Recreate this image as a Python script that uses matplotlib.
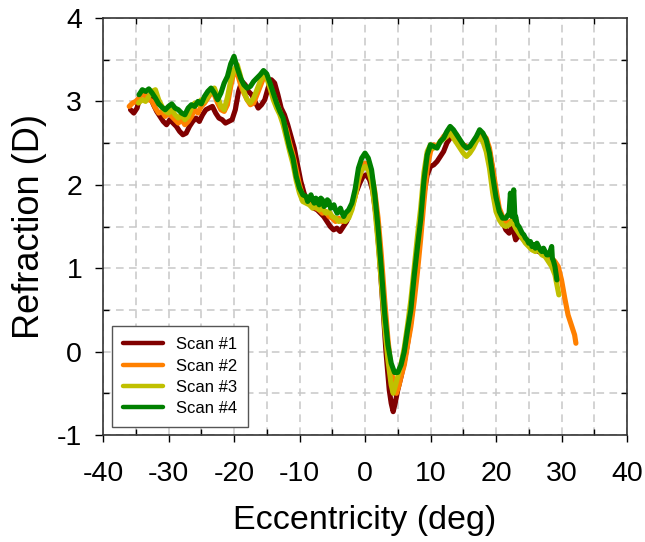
import matplotlib
matplotlib.use('Agg')
import matplotlib.pyplot as plt
from matplotlib.ticker import MultipleLocator

plt.rcParams['font.family'] = ['Liberation Sans', 'DejaVu Sans']
plt.rcParams['axes.unicode_minus'] = False

# Scan #1 (dark red)
scan1_x = [
    -35.8, -35.3, -34.8, -34.3, -33.8, -33.3, -32.8, -32.3, -31.8, -31.3,
    -30.8, -30.3, -29.8, -29.3, -28.8, -28.3, -27.8, -27.3, -26.8, -26.3,
    -25.8, -25.3, -24.8, -24.3, -23.8, -23.3, -22.8, -22.3, -21.8, -21.3,
    -20.8, -20.3, -19.8, -19.3, -18.8, -18.3, -17.8, -17.3, -16.8, -16.3,
    -15.8, -15.3, -14.8, -14.3, -13.8, -13.3, -12.8, -12.3, -11.8, -11.3,
    -10.8, -10.3, -9.8, -9.3, -8.8, -8.3, -7.8, -7.3, -6.8, -6.3,
    -5.8, -5.3, -4.8, -4.3, -3.8, -3.3, -2.8, -2.3, -1.8, -1.3,
    -0.8, -0.3, 0.2, 0.7, 1.2, 1.7, 2.2, 2.7, 3.2, 3.7,
    4.0, 4.3, 4.6, 5.0, 5.5, 6.0, 6.5, 7.0, 7.5, 8.0,
    8.5, 9.0, 9.5, 10.0, 10.5, 11.0, 11.5, 12.0, 12.5, 13.0,
    13.5, 14.0, 14.5, 15.0, 15.5, 16.0, 16.5, 17.0, 17.5, 18.0,
    18.5, 19.0, 19.5, 20.0, 20.5, 21.0, 21.5, 22.0, 22.5, 23.0,
    23.5, 24.0, 24.5, 25.0, 25.5, 26.0, 26.5, 27.0, 27.5, 28.0,
]
scan1_y = [
    2.90, 2.86, 2.92, 3.08, 3.12, 3.04, 3.06, 2.96, 2.88, 2.82,
    2.76, 2.72, 2.78, 2.74, 2.70, 2.64, 2.60, 2.62, 2.70, 2.76,
    2.80, 2.76, 2.84, 2.90, 2.92, 2.94, 2.86, 2.80, 2.78, 2.74,
    2.76, 2.78, 2.90, 3.12, 3.24, 3.20, 3.12, 3.08, 3.00, 2.92,
    2.96, 3.02, 3.16, 3.26, 3.22, 3.08, 2.92, 2.84, 2.72, 2.58,
    2.44, 2.24, 2.04, 1.90, 1.80, 1.76, 1.72, 1.70, 1.66, 1.62,
    1.56, 1.50, 1.46, 1.48, 1.44, 1.50, 1.56, 1.66, 1.80, 1.92,
    2.02, 2.10, 2.12, 2.06, 1.92, 1.62, 1.15, 0.58, 0.00, -0.46,
    -0.62, -0.72, -0.62, -0.46, -0.30, -0.12, 0.10, 0.36, 0.70, 1.10,
    1.50, 1.90, 2.12, 2.22, 2.24, 2.28, 2.34, 2.40, 2.50, 2.56,
    2.58, 2.56, 2.52, 2.48, 2.46, 2.44, 2.48, 2.54, 2.58, 2.56,
    2.50, 2.40, 2.18, 1.88, 1.66, 1.56, 1.46, 1.42, 1.50, 1.34,
    1.40, 1.36, 1.32, 1.28, 1.24, 1.22, 1.20, 1.18, 1.16, 1.12,
]

# Scan #2 (orange)
scan2_x = [
    -36.0, -35.5, -35.0, -34.5, -34.0, -33.5, -33.0, -32.5, -32.0, -31.5,
    -31.0, -30.5, -30.0, -29.5, -29.0, -28.5, -28.0, -27.5, -27.0, -26.5,
    -26.0, -25.5, -25.0, -24.5, -24.0, -23.5, -23.0, -22.5, -22.0, -21.5,
    -21.0, -20.5, -20.0, -19.5, -19.0, -18.5, -18.0, -17.5, -17.0, -16.5,
    -16.0, -15.5, -15.0, -14.5, -14.0, -13.5, -13.0, -12.5, -12.0, -11.5,
    -11.0, -10.5, -10.0, -9.5, -9.0, -8.5, -8.0, -7.5, -7.0, -6.5,
    -6.0, -5.5, -5.0, -4.5, -4.0, -3.5, -3.0, -2.5, -2.0, -1.5,
    -1.0, -0.5, 0.0, 0.5, 1.0, 1.5, 2.0, 2.5, 3.0, 3.5,
    4.0, 4.5, 4.8, 5.2, 5.5, 6.0, 6.5, 7.0, 7.5, 8.0,
    8.5, 9.0, 9.5, 10.0, 10.5, 11.0, 11.5, 12.0, 12.5, 13.0,
    13.5, 14.0, 14.5, 15.0, 15.5, 16.0, 16.5, 17.0, 17.5, 18.0,
    18.5, 19.0, 19.5, 20.0, 20.5, 21.0, 21.5, 22.0, 22.5, 23.0,
    23.5, 24.0, 24.5, 25.0, 25.5, 26.0, 26.5, 27.0, 27.5, 28.0,
    28.5, 29.0, 29.5, 30.0, 30.5, 31.0, 31.5, 32.0, 32.2,
]
scan2_y = [
    2.94, 2.98, 3.00, 3.04, 3.10, 3.06, 3.02, 3.00, 2.92, 2.86,
    2.88, 2.82, 2.86, 2.82, 2.78, 2.74, 2.78, 2.72, 2.76, 2.82,
    2.90, 2.86, 2.94, 2.98, 3.04, 3.10, 3.08, 2.98, 2.90, 2.88,
    2.96, 3.18, 3.36, 3.34, 3.20, 3.10, 3.02, 2.96, 2.98, 3.08,
    3.18, 3.28, 3.30, 3.20, 3.08, 2.98, 2.88, 2.76, 2.66, 2.50,
    2.36, 2.18, 2.00, 1.86, 1.80, 1.78, 1.74, 1.72, 1.70, 1.66,
    1.68, 1.62, 1.60, 1.56, 1.60, 1.56, 1.58, 1.64, 1.72, 1.86,
    2.05, 2.18, 2.26, 2.24, 2.12, 1.92, 1.60, 1.15, 0.62, 0.15,
    -0.22, -0.44, -0.50, -0.40, -0.30, -0.16, 0.08, 0.30, 0.60, 0.95,
    1.35, 1.80, 2.20, 2.40, 2.48, 2.46, 2.52, 2.58, 2.62, 2.66,
    2.62, 2.60, 2.52, 2.48, 2.46, 2.44, 2.50, 2.56, 2.62, 2.60,
    2.56, 2.44, 2.20, 1.95, 1.72, 1.62, 1.56, 1.55, 1.58, 1.52,
    1.46, 1.40, 1.34, 1.30, 1.26, 1.24, 1.22, 1.20, 1.18, 1.16,
    1.12, 1.08, 1.02, 0.86, 0.64, 0.44, 0.32, 0.20, 0.10,
]

# Scan #3 (yellow-green)
scan3_x = [
    -34.6, -34.0, -33.5, -33.0, -32.5, -32.0, -31.5, -31.0, -30.5, -30.0,
    -29.5, -29.0, -28.5, -28.0, -27.5, -27.0, -26.5, -26.0, -25.5, -25.0,
    -24.5, -24.0, -23.5, -23.0, -22.5, -22.0, -21.5, -21.0, -20.5, -20.0,
    -19.5, -19.0, -18.5, -18.0, -17.5, -17.0, -16.5, -16.0, -15.5, -15.0,
    -14.5, -14.0, -13.5, -13.0, -12.5, -12.0, -11.5, -11.0, -10.5, -10.0,
    -9.5, -9.0, -8.5, -8.0, -7.5, -7.0, -6.5, -6.0, -5.5, -5.0,
    -4.5, -4.0, -3.5, -3.0, -2.5, -2.0, -1.5, -1.0, -0.5, 0.0,
    0.5, 1.0, 1.5, 2.0, 2.5, 3.0, 3.5, 4.0, 4.3, 4.6,
    5.0, 5.5, 6.0, 6.5, 7.0, 7.5, 8.0, 8.5, 9.0, 9.5,
    10.0, 10.5, 11.0, 11.5, 12.0, 12.5, 13.0, 13.5, 14.0, 14.5,
    15.0, 15.5, 16.0, 16.5, 17.0, 17.5, 18.0, 18.5, 19.0, 19.5,
    20.0, 20.5, 21.0, 21.5, 22.0, 22.5, 23.0, 23.5, 24.0, 24.5,
    25.0, 25.5, 26.0, 26.5, 27.0, 27.5, 28.0, 28.5, 29.0, 29.3,
    29.6,
]
scan3_y = [
    2.98, 3.02, 3.00, 3.06, 3.12, 3.14, 3.02, 2.94, 2.88, 2.86,
    2.90, 2.84, 2.80, 2.84, 2.78, 2.82, 2.92, 2.98, 2.96, 3.02,
    3.00, 3.06, 3.12, 3.16, 3.06, 2.94, 2.90, 3.05, 3.25, 3.38,
    3.44, 3.30, 3.12, 3.02, 2.98, 3.04, 3.14, 3.24, 3.32, 3.28,
    3.16, 3.02, 2.92, 2.84, 2.72, 2.56, 2.40, 2.25, 2.05, 1.90,
    1.80, 1.78, 1.76, 1.72, 1.74, 1.70, 1.72, 1.66, 1.68, 1.62,
    1.60, 1.56, 1.58, 1.56, 1.60, 1.70, 1.86, 2.08, 2.18, 2.22,
    2.18, 2.04, 1.72, 1.30, 0.82, 0.30, -0.10, -0.40, -0.50, -0.42,
    -0.30, -0.15, 0.05, 0.32, 0.62, 1.00, 1.38, 1.72, 2.15, 2.40,
    2.48, 2.44, 2.46, 2.52, 2.55, 2.58, 2.62, 2.56, 2.50, 2.44,
    2.38, 2.34, 2.38, 2.44, 2.52, 2.57, 2.52, 2.40, 2.20, 1.90,
    1.68, 1.58, 1.52, 1.50, 1.52, 1.56, 1.48, 1.42, 1.36, 1.30,
    1.26, 1.22, 1.20, 1.22, 1.16, 1.14, 1.08, 1.02, 0.92, 0.80,
    0.68,
]

# Scan #4 (green)
scan4_x = [
    -34.5, -34.0, -33.5, -33.0, -32.5, -32.0, -31.5, -31.0, -30.5, -30.0,
    -29.5, -29.0, -28.5, -28.0, -27.5, -27.0, -26.5, -26.0, -25.5, -25.0,
    -24.5, -24.0, -23.5, -23.0, -22.5, -22.0, -21.5, -21.0, -20.5, -20.0,
    -19.5, -19.0, -18.5, -18.0, -17.5, -17.0, -16.5, -16.0, -15.5, -15.0,
    -14.5, -14.0, -13.5, -13.0, -12.5, -12.0, -11.5, -11.0, -10.5, -10.0,
    -9.5, -9.0, -8.75, -8.5, -8.25, -8.0, -7.75, -7.5, -7.25, -7.0,
    -6.75, -6.5, -6.25, -6.0, -5.75, -5.5, -5.25, -5.0, -4.75, -4.5,
    -4.25, -4.0, -3.75, -3.5, -3.25, -3.0, -2.5, -2.0, -1.5, -1.0,
    -0.5, 0.0, 0.5, 1.0, 1.5, 2.0, 2.5, 3.0, 3.5, 4.0,
    4.5, 5.0, 5.5, 6.0, 6.5, 7.0, 7.5, 8.0, 8.5, 9.0,
    9.5, 10.0, 10.5, 11.0, 11.5, 12.0, 12.5, 13.0, 13.5, 14.0,
    14.5, 15.0, 15.5, 16.0, 16.5, 17.0, 17.5, 18.0, 18.5, 19.0,
    19.5, 20.0, 20.5, 21.0, 21.5, 22.0, 22.2, 22.4, 22.7, 22.9,
    23.0, 23.25, 23.5, 23.75, 24.0, 24.25, 24.5, 24.75, 25.0, 25.25,
    25.5, 25.75, 26.0, 26.25, 26.5, 26.75, 27.0, 27.25, 27.5, 27.75,
    28.0, 28.25, 28.5, 28.6, 28.8, 29.0, 29.3,
]
scan4_y = [
    3.08, 3.14, 3.12, 3.15, 3.10, 3.04, 2.97, 2.93, 2.90, 2.94,
    2.97, 2.92, 2.90, 2.86, 2.84, 2.92, 2.96, 2.94, 3.00, 2.97,
    3.06, 3.12, 3.16, 3.10, 3.02, 3.10, 3.22, 3.30, 3.45, 3.54,
    3.40, 3.28, 3.20, 3.16, 3.18, 3.24, 3.28, 3.32, 3.37, 3.33,
    3.22, 3.10, 2.98, 2.88, 2.80, 2.62, 2.45, 2.32, 2.10, 1.96,
    1.88, 1.86, 1.80, 1.84, 1.88, 1.82, 1.78, 1.84, 1.80, 1.76,
    1.84, 1.82, 1.74, 1.76, 1.82, 1.80, 1.72, 1.74, 1.76, 1.70,
    1.66, 1.68, 1.72, 1.66, 1.62, 1.66, 1.70, 1.78, 1.95, 2.20,
    2.32, 2.38, 2.32, 2.18, 1.88, 1.48, 0.98, 0.46, 0.08, -0.14,
    -0.25, -0.25, -0.16, 0.00, 0.26, 0.50, 0.90, 1.25, 1.58, 2.05,
    2.36, 2.48, 2.46, 2.44, 2.52, 2.56, 2.64, 2.70, 2.66, 2.60,
    2.54, 2.48, 2.44, 2.46, 2.52, 2.58, 2.66, 2.62, 2.54, 2.38,
    2.10, 1.85, 1.68, 1.60, 1.60, 1.66, 1.90, 1.62, 1.94, 1.58,
    1.62, 1.52, 1.50, 1.46, 1.42, 1.40, 1.36, 1.34, 1.30, 1.32,
    1.26, 1.28, 1.24, 1.30, 1.26, 1.22, 1.20, 1.24, 1.20, 1.16,
    1.16, 1.20, 1.26, 1.12, 1.08, 1.02, 0.86,
]

scan_labels = ['Scan #1', 'Scan #2', 'Scan #3', 'Scan #4']
scan_colors = ['#800000', '#ff8000', '#c0c000', '#008000']

fig = plt.figure(figsize=(6.45, 5.42), dpi=100)
ax = fig.add_axes([0.1597, 0.1974, 0.8124, 0.7694])

series = [(scan1_x, scan1_y), (scan2_x, scan2_y), (scan3_x, scan3_y), (scan4_x, scan4_y)]
for (xs, ys), label, color in zip(series, scan_labels, scan_colors):
    ax.plot(xs, ys, color=color, lw=3.7, label=label,
            solid_joinstyle='round', solid_capstyle='round')

ax.set_xlim(-40, 40)
ax.set_ylim(-1, 4)
ax.xaxis.set_major_locator(MultipleLocator(10))
ax.xaxis.set_minor_locator(MultipleLocator(5))
ax.yaxis.set_major_locator(MultipleLocator(1))
ax.yaxis.set_minor_locator(MultipleLocator(0.5))

ax.grid(which='both', color='#c8c8c8', linestyle=(0, (5, 3.5)), linewidth=1.1)
ax.set_axisbelow(True)

for side in ['left', 'right', 'top', 'bottom']:
    ax.spines[side].set_color('#333333')
    ax.spines[side].set_linewidth(1.2)

ax.tick_params(axis='x', which='major', direction='out', length=5, width=1,
               top=False, labelsize=20.5, pad=14)
ax.tick_params(axis='x', which='minor', direction='in', length=4, width=1, top=True)
ax.tick_params(axis='y', which='major', direction='out', length=6, width=1,
               right=False, labelsize=20.5, pad=9)
ax.tick_params(axis='y', which='minor', direction='in', length=4, width=1, right=True)

ax.set_xlabel('Eccentricity (deg)', fontsize=24.5, labelpad=13)
ax.set_ylabel('Refraction (D)', fontsize=26, labelpad=7)

leg = ax.legend(loc='lower left', bbox_to_anchor=(0.017, 0.019), borderaxespad=0,
                fontsize=12, handlelength=2.4, handletextpad=0.8,
                labelspacing=0.38, fancybox=False, framealpha=1,
                borderpad=0.65)
leg.get_frame().set_edgecolor('#555555')
leg.get_frame().set_linewidth(1.0)
for line in leg.get_lines():
    line.set_linewidth(3.2)

fig.savefig('out.png', dpi=100)
